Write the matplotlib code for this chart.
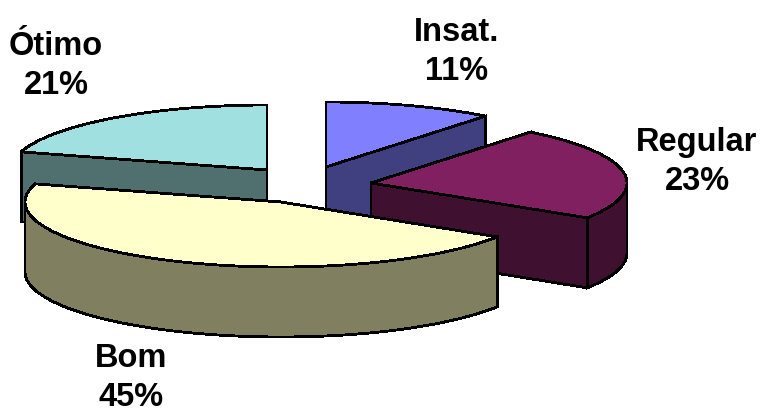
import numpy as np
import matplotlib
matplotlib.use("Agg")
import matplotlib.pyplot as plt
from matplotlib.patches import Polygon

# slices in drawing order, back to front
names = ["Ótimo", "Insat.", "Regular", "Bom"]
values = [20.5, 10.7, 23.3, 45.5]
start_shares = [79.5, 0, 10.7, 34]
top_colors = ["#A0E0E0", "#8080FF", "#802060", "#FFFFCC"]
side_colors = ["#507070", "#404080", "#401030", "#808060"]
centers = [(267, 170), (326, 167), (371, 183), (281, 202)]
label_pos = [(56, 66), (457, 52), (697, 162), (131, 378)]
label_text = ["21%", "11%", "23%", "45%"]

rx, ry, depth = 256, 65, 70

fig = plt.figure(figsize=(7.62, 4.12), dpi=100)
ax = fig.add_axes([0, 0, 1, 1])
ax.set_xlim(0, 762)
ax.set_ylim(412, 0)
ax.axis("off")


def add_poly(pts, color, z):
    ax.add_patch(Polygon(pts, closed=True, facecolor=color, edgecolor="black",
                         linewidth=1.3, zorder=z, antialiased=False))


for i in range(len(names)):
    cx, cy = centers[i]
    a0 = np.deg2rad(start_shares[i] * 3.6)
    a1 = np.deg2rad((start_shares[i] + values[i]) * 3.6)
    t = np.linspace(a0, a1, 80)
    arc = np.column_stack([cx + rx * np.sin(t), cy - ry * np.cos(t)])
    base = i * 10

    # radial faces
    for p in (arc[0], arc[-1]):
        add_poly([(cx, cy), p, (p[0], p[1] + depth), (cx, cy + depth)],
                 side_colors[i], base + 1)

    # outer wall, front half only
    front = arc[np.cos(t) <= 0]
    if len(front) > 1:
        lower = front[::-1] + [0, depth]
        add_poly(np.vstack([front, lower]), side_colors[i], base + 2)

    add_poly(np.vstack([[(cx, cy)], arc]), top_colors[i], base + 3)

    ax.text(label_pos[i][0], label_pos[i][1], names[i] + "\n" + label_text[i],
            ha="center", va="center", fontsize=23.5, fontweight="bold",
            family="Liberation Sans", linespacing=1.33, zorder=100)

fig.savefig("out.png", dpi=100)
